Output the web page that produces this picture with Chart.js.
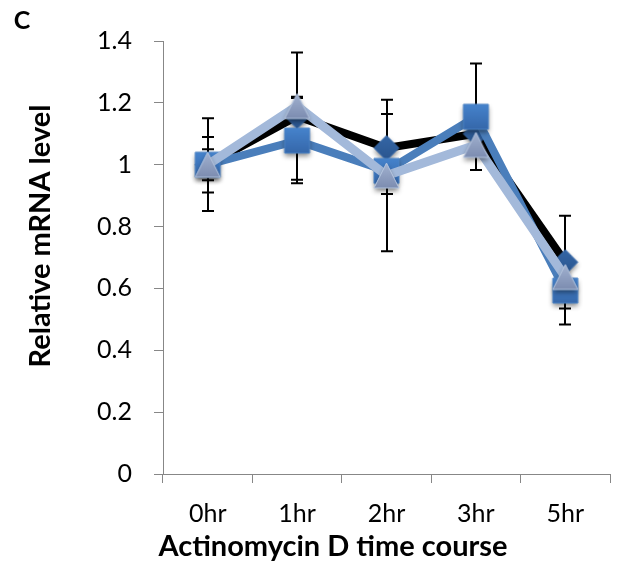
<!DOCTYPE html>
<html>
<head>
<meta charset="utf-8">
<script src="https://cdn.jsdelivr.net/npm/chart.js@4/dist/chart.umd.min.js"></script>
<style>
  html, body { margin: 0; padding: 0; background: #fff; }
  #wrap { width: 631px; height: 564px; }
</style>
</head>
<body>
<div id="wrap"><canvas id="c" width="631" height="564"></canvas></div>
<script>
// Time points of the actinomycin D chase
const categories = ['0hr', '1hr', '2hr', '3hr', '5hr'];

// Relative mRNA level per construct (normalised to 0hr)
const seriesA = [1.0, 1.157, 1.054, 1.10, 0.685];
const seriesB = [1.0, 1.078, 0.980, 1.155, 0.593];
const seriesC = [1.0, 1.190, 0.965, 1.064, 0.637];

// Error bar half-heights (SD)
const errA = [0.150, 0.206, 0.110, 0.030, 0.150];
const errB = [0.090, 0.138, 0.075, 0.172, 0.110];
const errC = [0.050, 0.030, 0.245, 0.030, 0.030];

const yTicks = [0, 0.2, 0.4, 0.6, 0.8, 1, 1.2, 1.4];

const FONT = 'Lato, Carlito, "Liberation Sans", sans-serif';
const AXIS_GREY = '#878787';

// Marker sprites with a gradient fill and a soft drop shadow
function makeMarker(shape, size, topCol, botCol, border) {
  const pad = 9;
  const c = document.createElement('canvas');
  c.width = size + pad * 2;
  c.height = size + pad * 2;
  const g = c.getContext('2d');
  const cx = c.width / 2, cy = c.height / 2, h = size / 2;
  const path = () => {
    g.beginPath();
    if (shape === 'rect') {
      g.rect(cx - h, cy - h, size, size);
    } else if (shape === 'diamond') {
      g.moveTo(cx, cy - h); g.lineTo(cx + h, cy); g.lineTo(cx, cy + h); g.lineTo(cx - h, cy); g.closePath();
    } else {
      g.moveTo(cx, cy - h); g.lineTo(cx + h, cy + h); g.lineTo(cx - h, cy + h); g.closePath();
    }
  };
  const grad = g.createLinearGradient(0, cy - h, 0, cy + h);
  grad.addColorStop(0, topCol);
  grad.addColorStop(1, botCol);
  path();
  g.save();
  g.shadowColor = 'rgba(0,0,0,0.45)';
  g.shadowBlur = 5;
  g.shadowOffsetY = 3;
  g.fillStyle = grad;
  g.fill();
  g.restore();
  path();
  g.lineWidth = 1;
  g.strokeStyle = border;
  g.stroke();
  return c;
}

const diamondImg = makeMarker('diamond', 25, '#3466A6', '#2A558E', '#3A6DAE');
const squareImg = makeMarker('rect', 25, '#4683CC', '#3567AA', '#4A82C4');
const triangleImg = makeMarker('triangle', 25, '#A2B2D0', '#7C8CB0', '#B7C7E0');

// Vertical error bars, drawn beneath the lines and markers
const errorBars = {
  id: 'errorBars',
  beforeDatasetsDraw(chart) {
    const ctx = chart.ctx;
    const ys = chart.scales.y;
    ctx.save();
    ctx.strokeStyle = '#000';
    ctx.lineWidth = 2;
    chart.data.datasets.forEach((ds, i) => {
      const meta = chart.getDatasetMeta(i);
      meta.data.forEach((pt, j) => {
        const v = ds.data[j], e = ds.errors[j];
        const x = Math.round(pt.x);
        const yt = ys.getPixelForValue(v + e);
        const yb = ys.getPixelForValue(v - e);
        ctx.beginPath();
        ctx.moveTo(x, yt); ctx.lineTo(x, yb);
        ctx.moveTo(x - 6, yt); ctx.lineTo(x + 6, yt);
        ctx.moveTo(x - 6, yb); ctx.lineTo(x + 6, yb);
        ctx.stroke();
      });
    });
    ctx.restore();
  }
};

// Panel letter and axis titles
const labels = {
  id: 'labels',
  afterDraw(chart) {
    const ctx = chart.ctx;
    ctx.save();
    ctx.fillStyle = '#000';
    ctx.textAlign = 'center';
    ctx.textBaseline = 'middle';
    ctx.font = 'bold 25px ' + FONT;
    ctx.fillText('C', 22, 21);
    ctx.font = 'bold 29px ' + FONT;
    ctx.fillText('Actinomycin D time course', 333, 547);
    ctx.translate(41, 236);
    ctx.rotate(-Math.PI / 2);
    ctx.fillText('Relative mRNA level', 0, 0);
    ctx.restore();
  }
};

new Chart(document.getElementById('c'), {
  type: 'line',
  data: {
    labels: categories,
    datasets: [
      {
        data: seriesA, errors: errA, order: 3,
        borderColor: '#000000', borderWidth: 8,
        pointStyle: diamondImg, pointRadius: 12
      },
      {
        data: seriesB, errors: errB, order: 2,
        borderColor: '#4A7EBB', borderWidth: 8,
        pointStyle: squareImg, pointRadius: 12
      },
      {
        data: seriesC, errors: errC, order: 1,
        borderColor: '#A3B9DA', borderWidth: 9,
        pointStyle: triangleImg, pointRadius: 12
      }
    ]
  },
  options: {
    responsive: false,
    animation: false,
    devicePixelRatio: 1,
    layout: { padding: { top: 41, right: 1, left: 0, bottom: 0 } },
    elements: {
      line: { tension: 0, borderJoinStyle: 'round', borderCapStyle: 'round', fill: false }
    },
    plugins: { legend: { display: false }, tooltip: { enabled: false } },
    scales: {
      x: {
        type: 'category',
        offset: true,
        grid: { display: true, drawOnChartArea: false, offset: true, color: AXIS_GREY, tickLength: 9, lineWidth: 1 },
        border: { color: AXIS_GREY, width: 1 },
        ticks: { color: '#000', font: { family: FONT, size: 25 }, padding: 16, maxRotation: 0 },
        afterFit(s) { s.height = 90; }
      },
      y: {
        type: 'linear',
        min: yTicks[0],
        max: yTicks[yTicks.length - 1],
        afterBuildTicks(s) { s.ticks = yTicks.map(v => ({ value: v })); },
        grid: { display: true, drawOnChartArea: false, color: AXIS_GREY, tickLength: 9, lineWidth: 1 },
        border: { color: AXIS_GREY, width: 1 },
        ticks: {
          color: '#000', font: { family: FONT, size: 25 }, padding: 22,
          callback: v => String(Number(v.toFixed(1)))
        },
        afterFit(s) { s.width = 163; }
      }
    }
  },
  plugins: [errorBars, labels]
});
</script>
</body>
</html>
